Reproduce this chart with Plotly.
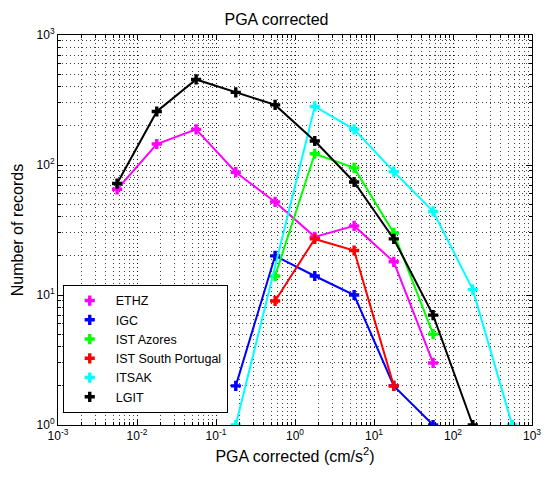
import plotly.graph_objects as go

# PGA bin centres (cm/s^2)
bins = [0.0056, 0.0178, 0.056, 0.178, 0.56, 1.78, 5.6, 17.8, 56, 178, 562]

ethz_x = [0.0056, 0.0178, 0.056, 0.178, 0.56, 1.78, 5.6, 17.8, 56]
ethz_y = [65, 145, 188, 88, 52, 28, 34, 18, 3]

igc_x = [0.178, 0.56, 1.78, 5.6, 17.8, 56]
igc_y = [2, 20, 14, 10, 2, 1]

azores_x = [0.56, 1.78, 5.6, 17.8, 56]
azores_y = [14, 122, 95, 30, 5]

sportugal_x = [0.56, 1.78, 5.6, 17.8]
sportugal_y = [9, 27, 22, 2]

itsak_x = [0.178, 1.78, 5.6, 17.8, 56, 178, 562]
itsak_y = [1, 282, 188, 89, 44, 11, 1]

lgit_x = [0.0056, 0.0178, 0.056, 0.178, 0.56, 1.78, 5.6, 17.8, 56, 178]
lgit_y = [72, 258, 455, 362, 290, 153, 74, 27, 7, 1]

names = ["ETHZ", "IGC", "IST Azores", "IST South Portugal", "ITSAK", "LGIT"]
colors = ["#FF00FF", "#0000FF", "#00FF00", "#FF0000", "#00FFFF", "#000000"]
xs = [ethz_x, igc_x, azores_x, sportugal_x, itsak_x, lgit_x]
ys = [ethz_y, igc_y, azores_y, sportugal_y, itsak_y, lgit_y]

xtick_vals = [1e-3, 1e-2, 1e-1, 1e0, 1e1, 1e2, 1e3]
xtick_text = ["10<sup>-3</sup>", "10<sup>-2</sup>", "10<sup>-1</sup>", "10<sup>0</sup>",
              "10<sup>1</sup>", "10<sup>2</sup>", "10<sup>3</sup>"]
ytick_vals = [1e0, 1e1, 1e2, 1e3]
ytick_text = ["10<sup>0</sup>", "10<sup>1</sup>", "10<sup>2</sup>", "10<sup>3</sup>"]

font = "Arial, 'Liberation Sans', sans-serif"

fig = go.Figure()
for n, c, x, y in zip(names, colors, xs, ys):
    fig.add_trace(go.Scatter(
        x=x, y=y, mode="lines+markers", name=n, showlegend=False,
        line=dict(color=c, width=2),
        marker=dict(symbol="cross", size=8.5, color=c, line=dict(width=0)),
    ))
# legend-only entries (marker only, as in the original)
for n, c in zip(names, colors):
    fig.add_trace(go.Scatter(
        x=[None], y=[None], mode="markers", name=n, showlegend=True,
        marker=dict(symbol="cross", size=8.5, color=c, line=dict(width=0)),
    ))

grid = "rgba(0,0,0,0.75)"
gdash = "1px,3px"
axis_common = dict(
    type="log", showline=True, linecolor="black", linewidth=1, mirror="allticks",
    ticks="inside", ticklen=5, tickcolor="black", tickmode="array",
    showgrid=True, gridcolor=grid, griddash=gdash, gridwidth=1,
    tickfont=dict(family=font, size=12, color="black"),
    zeroline=False,
    minor=dict(ticks="inside", ticklen=3, tickcolor="black", dtick="D1",
               showgrid=True, gridcolor=grid, griddash=gdash, gridwidth=1),
)

fig.update_xaxes(**axis_common, range=[-3, 3], tickvals=xtick_vals, ticktext=xtick_text,
                 title=dict(text="PGA corrected (cm/s<sup>2</sup>)",
                            font=dict(family=font, size=16, color="black"), standoff=8))
fig.update_yaxes(**axis_common, range=[0, 3], tickvals=ytick_vals, ticktext=ytick_text,
                 title=dict(text="Number of records",
                            font=dict(family=font, size=16, color="black"), standoff=8))

fig.update_layout(
    width=553, height=478,
    margin=dict(l=58, r=12, t=35, b=53),
    paper_bgcolor="white", plot_bgcolor="white",
    font=dict(family=font, size=12, color="black"),
    title=dict(text="PGA corrected", x=0.5, xanchor="center", y=0.972, yanchor="top",
               font=dict(family=font, size=16, color="black")),
    legend=dict(x=0.01, y=0.031, xanchor="left", yanchor="bottom",
                bgcolor="white", bordercolor="black", borderwidth=1,
                font=dict(family=font, size=12.5, color="black"),
                itemwidth=42, tracegroupgap=0),
)

fig.write_html("out.html")
